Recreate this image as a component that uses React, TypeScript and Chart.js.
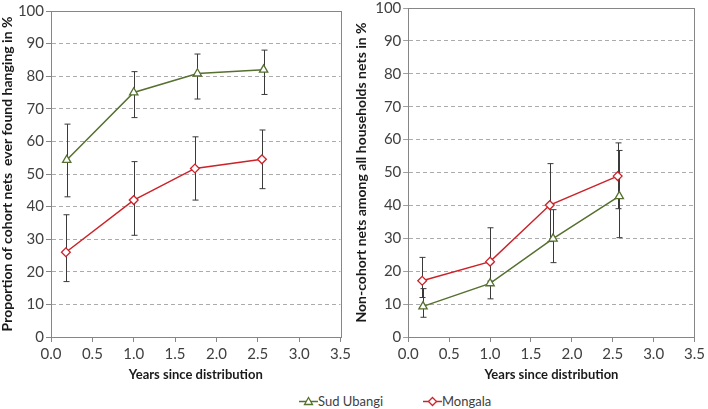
import React, { useEffect, useRef } from "react";
import { Chart, registerables } from "chart.js";

Chart.register(...registerables);

// ---------- data ----------
const seriesNames = ["Sud Ubangi", "Mongala"];
const yTickStep = 10;
const xTickStep = 0.5;

// Left panel: proportion of cohort nets ever found hanging (%)
const leftSudX = [0.19, 1.0, 1.77, 2.57];
const leftSudY = [54.3, 75.0, 80.8, 82.0];
const leftSudLow = [43.0, 67.3, 73.0, 74.4];
const leftSudHigh = [65.3, 81.4, 86.8, 88.0];

const leftMonX = [0.18, 1.0, 1.74, 2.55];
const leftMonY = [26.0, 42.0, 51.7, 54.5];
const leftMonLow = [17.0, 31.2, 42.0, 45.5];
const leftMonHigh = [37.5, 53.8, 61.4, 63.5];

// Right panel: non-cohort nets among all household nets (%)
const rightSudX = [0.18, 1.0, 1.77, 2.58];
const rightSudY = [9.3, 16.3, 29.9, 42.8];
const rightSudLow = [6.0, 11.6, 22.6, 30.2];
const rightSudHigh = [14.7, 22.5, 38.7, 56.7];

const rightMonX = [0.17, 1.0, 1.73, 2.56];
const rightMonY = [17.1, 22.9, 40.1, 48.9];
const rightMonLow = [12.0, 17.0, 29.0, 39.0];
const rightMonHigh = [24.2, 33.2, 52.7, 59.0];

const xTitle = "Years since distribution";
const leftYTitle = "Proportion of cohort nets  ever found hanging in %";
const rightYTitle = "Non-cohort nets among all households nets in %";

// ---------- styles ----------
const SUD_COLOR = "#55702f";
const MON_COLOR = "#cc2229";
const AXIS_COLOR = "#868686";
const GRID_COLOR = "#ababab";
const TICK_COLOR = "#404040";
const FONT = "Lato";

const errorBarPlugin = {
  id: "errorBars",
  beforeDatasetsDraw(chart: any) {
    const ctx = chart.ctx;
    const ys = chart.scales.y;
    ctx.save();
    ctx.strokeStyle = "#3a3a3a";
    ctx.lineWidth = 1;
    chart.data.datasets.forEach((ds: any, i: number) => {
      const meta = chart.getDatasetMeta(i);
      meta.data.forEach((pt: any, j: number) => {
        const x = Math.round(pt.x) + 0.5;
        const y1 = ys.getPixelForValue(ds.errLow[j]);
        const y2 = ys.getPixelForValue(ds.errHigh[j]);
        ctx.beginPath();
        ctx.moveTo(x, y1);
        ctx.lineTo(x, y2);
        ctx.moveTo(x - 3, y1);
        ctx.lineTo(x + 3, y1);
        ctx.moveTo(x - 3, y2);
        ctx.lineTo(x + 3, y2);
        ctx.stroke();
      });
    });
    ctx.restore();
  },
};

const framePlugin = {
  id: "frame",
  beforeDatasetsDraw(chart: any) {
    const { left, top, right, bottom } = chart.chartArea;
    const ctx = chart.ctx;
    ctx.save();
    ctx.strokeStyle = AXIS_COLOR;
    ctx.lineWidth = 1;
    ctx.strokeRect(Math.round(left) + 0.5, Math.round(top) + 0.5, Math.round(right - left), Math.round(bottom - top));
    ctx.restore();
  },
};

function makeConfig(
  sx: number[], sy: number[], sLow: number[], sHigh: number[],
  mx: number[], my: number[], mLow: number[], mHigh: number[],
  yTitle: string, yWidth: number, padRight: number
): any {
  return {
    type: "line",
    data: {
      datasets: [
        {
          label: seriesNames[0],
          data: sx.map((x, i) => ({ x, y: sy[i] })),
          errLow: sLow,
          errHigh: sHigh,
          borderColor: SUD_COLOR,
          borderWidth: 1.5,
          pointStyle: "triangle",
          pointRadius: 4.8,
          pointBorderWidth: 1.3,
          pointBorderColor: SUD_COLOR,
          pointBackgroundColor: "#ffffff",
          tension: 0,
        },
        {
          label: seriesNames[1],
          data: mx.map((x, i) => ({ x, y: my[i] })),
          errLow: mLow,
          errHigh: mHigh,
          borderColor: MON_COLOR,
          borderWidth: 1.5,
          pointStyle: "rectRot",
          pointRadius: 4.4,
          pointBorderWidth: 1.3,
          pointBorderColor: MON_COLOR,
          pointBackgroundColor: "#ffffff",
          tension: 0,
        },
      ],
    },
    options: {
      animation: false,
      responsive: false,
      devicePixelRatio: 1,
      layout: { padding: { top: 8, right: padRight, bottom: 4, left: 0 } },
      plugins: { legend: { display: false }, tooltip: { enabled: false } },
      scales: {
        x: {
          type: "linear",
          min: 0,
          max: 3.5,
          afterFit: (s: any) => { s.height = 49; },
          ticks: {
            stepSize: xTickStep,
            callback: (v: any) => Number(v).toFixed(1),
            color: TICK_COLOR,
            font: { family: FONT, size: 15 },
            padding: 3,
            maxRotation: 0,
          },
          grid: {
            drawOnChartArea: false,
            drawTicks: true,
            tickLength: 5,
            tickColor: AXIS_COLOR,
            color: AXIS_COLOR,
          },
          border: { color: AXIS_COLOR, width: 1 },
          title: {
            display: true,
            text: xTitle,
            color: "#1a1a1a",
            font: { family: FONT, size: 13, weight: "bold", lineHeight: 1.1 },
            padding: { top: 0, bottom: 4 },
          },
        },
        y: {
          type: "linear",
          min: 0,
          max: 100,
          afterFit: (s: any) => { s.width = yWidth; },
          ticks: {
            stepSize: yTickStep,
            color: TICK_COLOR,
            font: { family: FONT, size: 15 },
            padding: 2,
          },
          grid: {
            color: GRID_COLOR,
            lineWidth: 1,
            drawTicks: true,
            tickLength: 5,
            tickColor: AXIS_COLOR,
            tickBorderDash: [1, 0],
          },
          border: { color: AXIS_COLOR, width: 1, dash: [4, 3] },
          title: {
            display: true,
            text: yTitle,
            color: "#1a1a1a",
            font: { family: FONT, size: 14, weight: "bold", lineHeight: 1.0 },
            padding: { top: 0, bottom: 0 },
          },
        },
      },
    },
    plugins: [errorBarPlugin, framePlugin],
  };
}

function Panel(props: { config: any; left: number; top: number; width: number; height: number }) {
  const ref = useRef<HTMLCanvasElement>(null);
  useEffect(() => {
    if (!ref.current) return;
    const chart = new Chart(ref.current, props.config);
    return () => chart.destroy();
  }, []);
  return (
    <canvas
      ref={ref}
      width={props.width}
      height={props.height}
      style={{ position: "absolute", left: props.left, top: props.top, width: props.width, height: props.height }}
    />
  );
}

function LegendIcon(props: { color: string; kind: "triangle" | "diamond" }) {
  return (
    <svg width={19} height={12} style={{ display: "block" }}>
      <line x1={0} y1={6.5} x2={19} y2={6.5} stroke={props.color} strokeWidth={1.5} />
      {props.kind === "triangle" ? (
        <polygon points="9.5,2.5 13.5,9.5 5.5,9.5" fill="#fff" stroke={props.color} strokeWidth={1.3} />
      ) : (
        <polygon points="9.5,2.5 13.5,6.5 9.5,10.5 5.5,6.5" fill="#fff" stroke={props.color} strokeWidth={1.3} />
      )}
    </svg>
  );
}

export default function App() {
  const leftCfg = makeConfig(
    leftSudX, leftSudY, leftSudLow, leftSudHigh,
    leftMonX, leftMonY, leftMonLow, leftMonHigh,
    leftYTitle, 51, 13
  );
  const rightCfg = makeConfig(
    rightSudX, rightSudY, rightSudLow, rightSudHigh,
    rightMonX, rightMonY, rightMonLow, rightMonHigh,
    rightYTitle, 54.3, 9
  );
  const legendText: React.CSSProperties = {
    fontFamily: FONT,
    fontSize: 13,
    color: TICK_COLOR,
    lineHeight: "16px",
    whiteSpace: "nowrap",
  };
  return (
    <div style={{ position: "fixed", left: 0, top: 0, width: 708, height: 409, background: "#fff", overflow: "hidden" }}>
      <Panel config={leftCfg} left={0} top={0} width={354} height={390} />
      <Panel config={rightCfg} left={354} top={-3} width={354} height={393} />
      <div style={{ position: "absolute", left: 299, top: 393, display: "flex", alignItems: "center" }}>
        <LegendIcon color={SUD_COLOR} kind="triangle" />
        <span style={legendText}>{seriesNames[0]}</span>
      </div>
      <div style={{ position: "absolute", left: 423, top: 393, display: "flex", alignItems: "center" }}>
        <LegendIcon color={MON_COLOR} kind="diamond" />
        <span style={legendText}>{seriesNames[1]}</span>
      </div>
    </div>
  );
}
